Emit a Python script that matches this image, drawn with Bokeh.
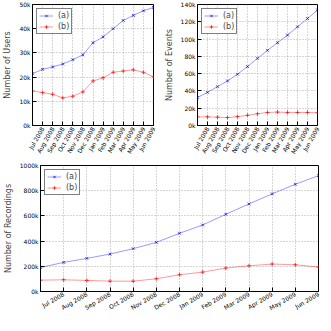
import math
from bokeh.plotting import figure
from bokeh.layouts import column, row
from bokeh.models import FixedTicker, Range1d, Legend
from bokeh.embed import file_html
from bokeh.resources import INLINE

months = ["Jun 2008", "Jul 2008", "Aug 2008", "Sep 2008", "Oct 2008", "Nov 2008", "Dec 2008",
          "Jan 2009", "Feb 2009", "Mar 2009", "Apr 2009", "May 2009", "Jun 2009"]
x = list(range(len(months)))

users_a = [21.4, 23.2, 24.2, 25.4, 27.2, 29.2, 34.2, 36.6, 40.0, 43.4, 45.5, 47.4, 48.8]
users_b = [14.3, 13.6, 12.9, 11.4, 12.1, 13.9, 18.4, 19.7, 22.0, 22.5, 23.0, 22.0, 20.1]
events_a = [32.4, 38.3, 45.0, 51.6, 59.3, 68.2, 77.7, 87.0, 95.8, 104.6, 114.2, 123.8, 133.7]
events_b = [10.0, 10.0, 9.6, 9.2, 10.3, 11.8, 13.6, 15.1, 15.5, 15.1, 15.1, 15.1, 14.7]
rec_a = [191, 231, 263, 297, 340, 390, 462, 528, 613, 695, 775, 851, 920]
rec_b = [90, 93, 88, 82, 82, 101, 133, 154, 186, 204, 218, 212, 194]

users_ticks = [0, 10, 20, 30, 40, 50]
events_ticks = [0, 20, 40, 60, 80, 100, 120, 140]
rec_ticks = [0, 200, 400, 600, 800, 1000]

FONT = "DejaVu Sans"
BLUE = "#0000ff"
RED = "#ff0000"


def make(ylabel, a, b, yticks, fw, fh, bl, bt, br, bb, angle):
    p = figure(output_backend="svg", toolbar_location=None,
               frame_width=fw, frame_height=fh,
               min_border_left=bl, min_border_top=bt, min_border_right=br, min_border_bottom=bb,
               x_range=Range1d(0, len(x) - 1), y_range=Range1d(yticks[0], yticks[-1]))
    p.outline_line_color = "black"
    p.outline_line_width = 1
    p.background_fill_color = "white"
    p.border_fill_color = "white"
    la = p.line(x, a, line_color=BLUE, line_alpha=0.4, line_width=1)
    ma = p.scatter(x, a, marker="x", size=4, line_color=BLUE, line_alpha=0.7, line_width=1)
    lb = p.line(x, b, line_color=RED, line_alpha=0.4, line_width=1)
    mb = p.scatter(x, b, marker="cross", size=4, line_color=RED, line_alpha=0.7, line_width=1)

    p.xaxis.ticker = FixedTicker(ticks=x[1:])
    p.xaxis.major_label_overrides = {i: months[i] for i in x}
    p.xaxis.major_label_orientation = angle
    p.yaxis.ticker = FixedTicker(ticks=yticks)
    p.yaxis.major_label_overrides = {t: f"{t}k" for t in yticks}
    for ax in (p.xaxis, p.yaxis):
        ax.major_tick_in = 4
        ax.major_tick_out = 0
        ax.minor_tick_in = 0
        ax.minor_tick_out = 0
        ax.axis_line_color = "black"
        ax.major_label_text_font = FONT
        ax.major_label_text_font_size = "6px"
        ax.major_label_text_color = "black"
        ax.major_label_standoff = 2
    p.yaxis.axis_label = ylabel
    p.yaxis.axis_label_text_font = FONT
    p.yaxis.axis_label_text_font_size = "8px"
    p.yaxis.axis_label_text_font_style = "normal"
    p.yaxis.axis_label_standoff = 4

    p.grid.grid_line_color = "#999999"
    p.grid.grid_line_dash = "1 2"
    p.grid.grid_line_alpha = 0.8
    p.xgrid.ticker = FixedTicker(ticks=x[1:])

    legend = Legend(items=[("(a)", [la, ma]), ("(b)", [lb, mb])], location="top_left")
    legend.label_text_font = FONT
    legend.label_text_font_size = "8px"
    legend.border_line_color = "black"
    legend.border_line_width = 1.5
    legend.glyph_height = 9
    legend.glyph_width = 14
    legend.label_height = 9
    legend.label_width = 0
    legend.spacing = 2
    legend.padding = 2
    legend.margin = 4
    legend.label_standoff = 5
    p.add_layout(legend)
    return p


p1 = make("Number of Users", users_a, users_b, users_ticks, 121, 121, 32, 4, 8, 32, math.pi / 3)
p2 = make("Number of Events", events_a, events_b, events_ticks, 120, 121, 28, 4, 5, 32, math.pi / 3)
p3 = make("Number of Recordings", rec_a, rec_b, rec_ticks, 278, 126, 32, 6, 5, 26, math.pi / 6)

layout = column(row(p1, p2), p3)
open("out.html", "w").write(file_html(layout, INLINE))
